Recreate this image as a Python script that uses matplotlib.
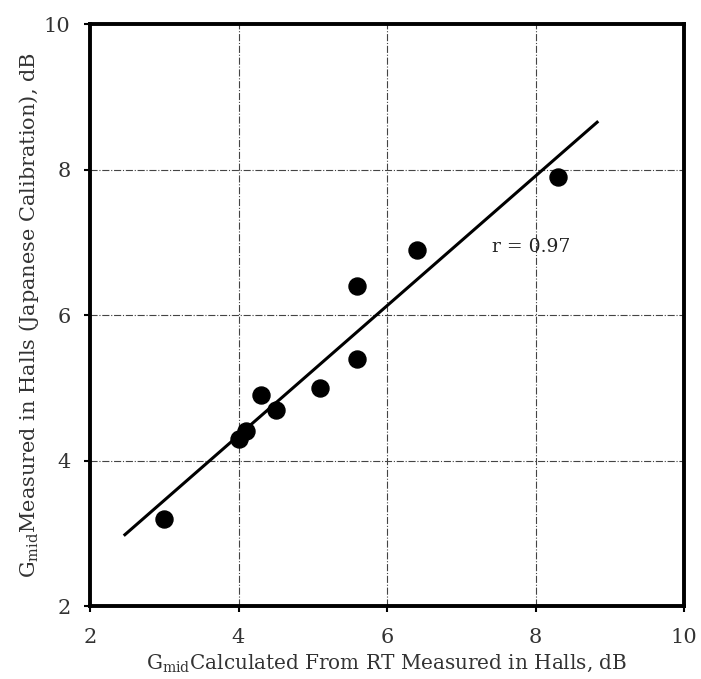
import matplotlib

matplotlib.use("Agg")
import matplotlib.pyplot as plt

# Gmid calculated from RT vs Gmid measured (Japanese calibration), dB
calc_db = [3.0, 4.0, 4.1, 4.3, 4.5, 5.1, 5.6, 5.6, 6.4, 8.3]
meas_db = [3.2, 4.3, 4.4, 4.9, 4.7, 5.0, 5.4, 6.4, 6.9, 7.9]

# regression line end points
fit_x = [2.47, 8.83]
fit_y = [2.98, 8.65]

ticks = [2, 4, 6, 8, 10]

plt.rcParams["font.family"] = ["DejaVu Serif"]
plt.rcParams["mathtext.fontset"] = "dejavuserif"

fig = plt.figure(figsize=(7.01, 6.79), dpi=100)
ax = fig.add_axes([90 / 701, 1 - 606 / 679, 594 / 701, 582 / 679])

ax.plot(fit_x, fit_y, "-", c="black", lw=2.2, zorder=3)
ax.scatter(calc_db, meas_db, s=150, c="black", zorder=4)
ax.text(7.41, 6.93, "r = 0.97", fontsize=13.5, va="center", ha="left", color="#222222")

ax.set_xlim(2, 10)
ax.set_ylim(2, 10)
ax.set_xticks(ticks)
ax.set_yticks(ticks)
ax.grid(True, color="#444444", ls="-.", lw=0.8)
for s in ax.spines.values():
    s.set_linewidth(2.8)
ax.tick_params(labelsize=15, width=1.5, length=4, colors="black", labelcolor="#333333")
ax.tick_params(axis="y", pad=10)
ax.tick_params(axis="x", pad=12)

ax.set_xlabel(r"G$_{\mathrm{mid}}$Calculated From RT Measured in Halls, dB",
              fontsize=14.4, color="#333333", labelpad=4)
ax.set_ylabel(r"G$_{\mathrm{mid}}$Measured in Halls (Japanese Calibration), dB",
              fontsize=15, color="#333333", labelpad=2)

fig.savefig("out.png", dpi=100)
